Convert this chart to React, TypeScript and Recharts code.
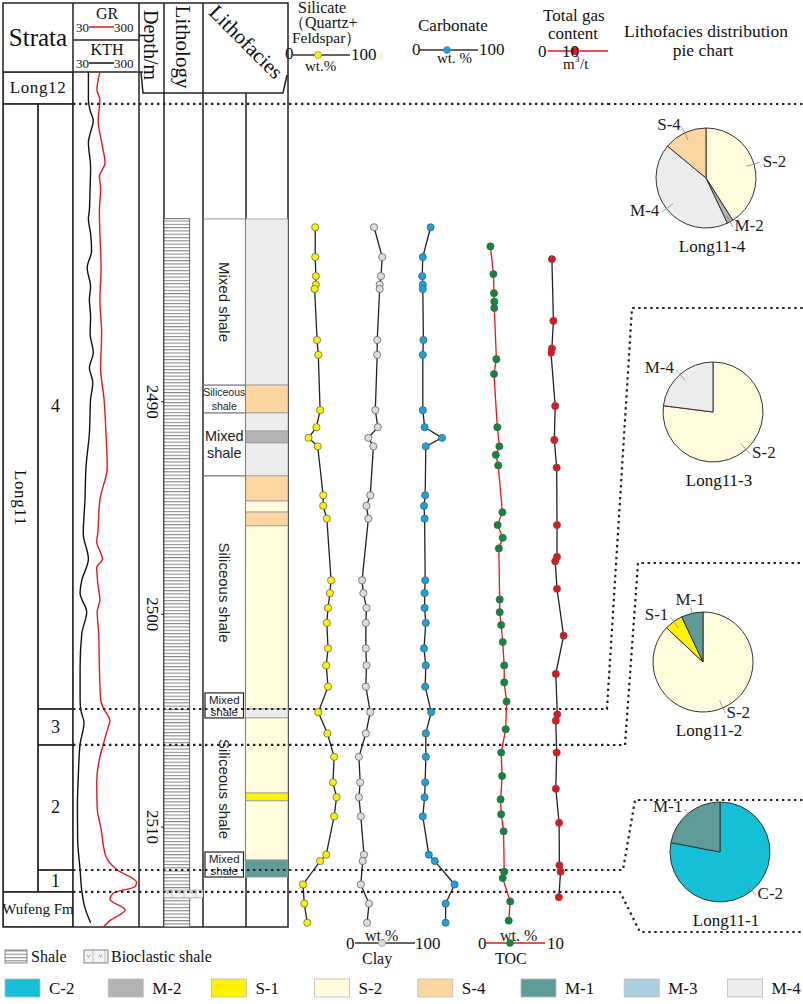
import React from 'react';
import {
  LineChart,
  Line,
  XAxis,
  YAxis,
  ReferenceArea,
  ReferenceLine,
  PieChart,
  Pie,
  Cell
} from 'recharts';

const SERIF = '"Liberation Serif", "Times New Roman", serif';
const SANS = '"Liberation Sans", Arial, sans-serif';

// depth window of the log (m)
const depthDomain = [2474.5, 2514.7];
const depthTicks = [2490, 2500, 2510];

// GR / KTH log curves (API)
const grDepths = [2474.5, 2475.35, 2475.8, 2476.8, 2477.8, 2478.8, 2479.0, 2479.4, 2480.0, 2481.0, 2482.1, 2483.7, 2485.2, 2486.8, 2488.4, 2489.9, 2491.5, 2493.1, 2494.6, 2496.2, 2496.6, 2497.1, 2497.4, 2497.8, 2498.7, 2499.3, 2499.9, 2500.9, 2502.5, 2504.0, 2504.4, 2505.0, 2505.3, 2506.1, 2506.7, 2507.9, 2509.1, 2510.1, 2511.4, 2512.0, 2512.6, 2512.8, 2513.1, 2513.4, 2513.9, 2514.4, 2514.7];
const grValues = [140, 128, 140, 133, 147, 161, 154, 138, 143, 138, 140, 145, 140, 147, 143, 157, 165, 170, 140, 131, 127, 143, 151, 127, 133, 140, 129, 135, 138, 143, 154, 181, 174, 154, 140, 127, 129, 145, 165, 209, 290, 284, 195, 181, 243, 181, 154];
const kthDepths = [2474.5, 2475.8, 2476.3, 2476.8, 2477.4, 2477.8, 2479.0, 2479.9, 2481.0, 2481.4, 2482.1, 2482.9, 2483.7, 2484.6, 2485.2, 2486.0, 2486.8, 2487.7, 2488.4, 2489.1, 2489.9, 2491.5, 2493.1, 2494.6, 2496.2, 2497.4, 2498.4, 2499.0, 2499.9, 2500.9, 2502.5, 2504.0, 2504.5, 2505.1, 2506.1, 2507.5, 2509.1, 2510.6, 2512.0, 2513.0, 2513.8, 2514.5];
const kthValues = [93, 93, 100, 113, 100, 93, 102, 100, 97, 93, 102, 106, 88, 102, 97, 102, 100, 113, 97, 111, 102, 97, 83, 79, 72, 93, 66, 59, 86, 66, 59, 59, 62, 75, 59, 52, 48, 49, 59, 66, 79, 102];

// mineral samples (wt.%)
const sampleDepths = [2481.8, 2483.2, 2484.1, 2484.5, 2484.7, 2487.1, 2487.8, 2490.4, 2491.2, 2491.7, 2492.1, 2494.4, 2494.9, 2495.5, 2498.4, 2499.0, 2499.7, 2500.4, 2501.6, 2502.4, 2503.4, 2504.6, 2505.6, 2506.7, 2507.9, 2508.6, 2509.5, 2511.3, 2511.6, 2512.7, 2513.6, 2514.5];
const silicateValues = [43, 43, 44, 44, 42, 46, 48, 51, 45, 32, 47, 56, 56, 62, 69, 67, 64, 62, 64, 61, 64, 48, 63, 74, 72, 78, 74, 61, 51, 23, 25, 30];
const clayValues = [35, 48, 46, 44, 44, 40, 40, 37, 41, 26, 34, 29, 23, 26, 16, 18, 23, 22, 22, 23, 22, 29, 22, 11, 13, 11, 14, 19, 17, 14, 27, 24];
const carbonateValues = [21, 8, 7, 8, 8, 9, 8, 8, 11, 40, 13, 12, 10, 11, 12, 11, 11, 13, 10, 13, 12, 22, 13, 13, 12, 11, 8, 18, 28, 61, 46, 46];

// TOC (wt.%)
const tocDepths = [2482.7, 2484.0, 2484.9, 2485.3, 2485.6, 2488.0, 2488.7, 2491.2, 2492.1, 2492.5, 2493.0, 2495.2, 2495.8, 2496.4, 2496.9, 2499.3, 2499.9, 2500.5, 2501.3, 2502.4, 2503.2, 2504.1, 2505.4, 2506.5, 2507.6, 2508.7, 2509.4, 2510.2, 2512.1, 2512.4, 2513.5, 2514.4];
const tocValues = [0.9, 1.4, 1.5, 1.55, 1.55, 1.9, 1.5, 2.05, 2.4, 1.8, 2.2, 2.9, 2.1, 2.95, 2.3, 2.45, 2.45, 2.7, 2.95, 3.2, 3.2, 3.6, 3.45, 2.7, 2.85, 2.6, 2.7, 3.1, 3.2, 2.95, 4.2, 3.95];

// total gas content (m3/t)
const gasDepths = [2483.3, 2486.2, 2487.5, 2487.7, 2490.2, 2491.8, 2493.1, 2495.8, 2497.3, 2497.5, 2498.8, 2501.0, 2502.8, 2504.7, 2505.0, 2506.5, 2508.2, 2509.8, 2511.8, 2512.1, 2513.3];
const gasValues = [0.65, 0.9, 0.65, 0.5, 1.2, 1.05, 1.45, 1.5, 1.5, 1.2, 1.5, 2.6, 1.3, 1.55, 1.3, 1.45, 1.3, 1.85, 1.9, 2.1, 1.8];

// strata
const members = ['Long12', 'Long11', 'Wufeng Fm'];
const memberTops = [2474.5, 2476.0, 2513.05];
const memberBottoms = [2476.0, 2513.05, 2514.7];
const subLayers = ['4', '3', '2', '1'];
const subLayerTops = [2476.0, 2504.45, 2506.14, 2512.02];
const subLayerBottoms = [2504.45, 2506.14, 2512.02, 2513.05];
const boundaryDepths = [2476.0, 2504.45, 2506.14, 2512.02, 2513.05];

// lithology
const lithologyTypes = ['shale', 'bioclastic'];
const lithologyTops = [2481.4, 2512.96];
const lithologyBottoms = [2514.7, 2513.33];

// lithofacies column
const faciesCodes = ['M-4', 'S-4', 'M-4', 'M-2', 'M-4', 'S-4', 'S-2', 'S-4', 'S-2', 'M-4', 'S-2', 'S-1', 'S-2', 'M-1'];
const faciesTops = [2481.41, 2489.22, 2490.53, 2491.38, 2491.94, 2493.49, 2494.67, 2495.19, 2495.84, 2504.45, 2504.87, 2508.4, 2508.77, 2511.55];
const faciesBottoms = [2489.22, 2490.53, 2491.38, 2491.94, 2493.49, 2494.67, 2495.19, 2495.84, 2504.45, 2504.87, 2508.4, 2508.77, 2511.55, 2512.35];
const faciesGroups = ['Mixed shale', 'Siliceous shale', 'Mixed shale', 'Siliceous shale', 'Mixed shale', 'Siliceous shale', 'Mixed shale'];
const groupTops = [2481.41, 2489.22, 2490.53, 2493.49, 2504.45, 2504.87, 2511.55];
const groupBottoms = [2489.22, 2490.53, 2493.49, 2504.45, 2504.87, 2511.55, 2512.35];

const legendCodes = ['C-2', 'M-2', 'S-1', 'S-2', 'S-4', 'M-1', 'M-3', 'M-4'];
const legendColors = ['#15bfd5', '#b3b3b3', '#fff200', '#fffbdc', '#fcd5a0', '#5f9c99', '#a9cfe0', '#ececec'];

// pie charts (%)
const pieTitles = ['Long11-4', 'Long11-3', 'Long11-2', 'Long11-1'];
const pieCodes = [['S-2', 'M-2', 'M-4', 'S-4'], ['S-2', 'M-4'], ['S-2', 'S-1', 'M-1'], ['C-2', 'M-1']];
const pieShares = [[41, 2, 43, 14], [77, 23], [87, 6, 7], [78, 22]];

const colorOf = (code: string) => legendColors[legendCodes.indexOf(code)];

const LOG_TOP = 72;
const LOG_H = 855;
const pieCenters = [
  { cx: 706, cy: 178 },
  { cx: 713, cy: 412 },
  { cx: 703, cy: 662 },
  { cx: 720, cy: 852 }
];
const noMargin = { top: 0, right: 0, bottom: 0, left: 0 };
const dotted = { stroke: '#222', strokeWidth: 2.2, strokeDasharray: '2.4 3.6', fill: 'none' };

const pos = (left: number, width: number): React.CSSProperties => ({
  position: 'absolute',
  left,
  top: LOG_TOP,
  width,
  height: LOG_H
});

const T = ({ x, y, size = 16, anchor = 'start', family = SERIF, rotate = 0, fill = '#111', children }: any) => (
  <text
    x={x}
    y={y}
    fontSize={size}
    fontFamily={family}
    textAnchor={anchor}
    fill={fill}
    dominantBaseline={rotate ? 'central' : 'auto'}
    transform={rotate ? `rotate(${rotate} ${x} ${y})` : undefined}
  >
    {children}
  </text>
);

const DepthTick = (p: any) => {
  const cx = p.x - 6;
  return (
    <text
      x={cx}
      y={p.y}
      transform={`rotate(90 ${cx} ${p.y})`}
      textAnchor='middle'
      dominantBaseline='central'
      fontFamily={SERIF}
      fontSize={17}
      fill='#111'
    >
      {p.payload.value}
    </text>
  );
};

const strataShape = (name: string, vertical: boolean) => (p: any) => {
  const cx = p.x + p.width / 2;
  const cy = p.y + p.height / 2;
  return (
    <g>
      <rect x={p.x} y={p.y} width={p.width} height={p.height} fill='none' stroke='#222' strokeWidth={1.3} />
      <text
        x={cx}
        y={cy}
        textAnchor='middle'
        dominantBaseline='central'
        fontFamily={SERIF}
        fontSize={name.length > 6 ? 15 : name.length > 1 ? 17 : 18}
        letterSpacing={name.length > 1 && name.length <= 6 ? 0.6 : 0}
        transform={vertical ? `rotate(90 ${cx} ${cy})` : undefined}
        fill='#111'
      >
        {name}
      </text>
    </g>
  );
};

const faciesShape = (color: string) => (p: any) => (
  <rect x={p.x} y={p.y} width={p.width} height={p.height} fill={color} stroke='#9a9a9a' strokeWidth={0.8} />
);

const groupShape = (name: string) => (p: any) => {
  const { x, y, width, height } = p;
  const cx = x + width / 2;
  const cy = y + height / 2;
  const [w1, w2] = name.split(' ');
  if (height > 100) {
    return (
      <g>
        <rect x={x} y={y} width={width} height={height} fill='none' stroke='#777' strokeWidth={0.8} />
        <text
          x={cx}
          y={cy}
          transform={`rotate(90 ${cx} ${cy})`}
          textAnchor='middle'
          dominantBaseline='central'
          fontFamily={SANS}
          fontSize={15}
          fill='#222'
        >
          {name}
        </text>
      </g>
    );
  }
  if (height > 20) {
    const small = height < 40;
    const size = small ? 10.5 : 14.5;
    const d = small ? 7 : 8.5;
    return (
      <g>
        <rect x={x} y={y} width={width} height={height} fill='none' stroke='#777' strokeWidth={0.8} />
        <text x={cx} y={cy - d} textAnchor='middle' dominantBaseline='central' fontFamily={SANS} fontSize={size} fill='#222'>{w1}</text>
        <text x={cx} y={cy + d} textAnchor='middle' dominantBaseline='central' fontFamily={SANS} fontSize={size} fill='#222'>{w2}</text>
      </g>
    );
  }
  const bh = 25;
  const by = y + height - bh;
  return (
    <g>
      <rect x={x + 2} y={by} width={width - 4} height={bh} fill='#fff' stroke='#222' strokeWidth={1.2} />
      <text x={cx} y={by + 7} textAnchor='middle' dominantBaseline='central' fontFamily={SANS} fontSize={11.5} fill='#222'>{w1}</text>
      <text x={cx} y={by + 19} textAnchor='middle' dominantBaseline='central' fontFamily={SANS} fontSize={11.5} fill='#222'>{w2}</text>
    </g>
  );
};

const lithoShape = (type: string) => (p: any) => (
  <rect
    x={p.x}
    y={p.y}
    width={p.width}
    height={p.height}
    fill={type === 'shale' ? 'url(#shaleHatch)' : 'url(#bioHatch)'}
    stroke={type === 'shale' ? '#333' : '#999'}
    strokeWidth={0.7}
  />
);

const RAD = Math.PI / 180;
const renderPieLabel = (p: any) => {
  const { cx, cy, midAngle, outerRadius, name } = p;
  const c = Math.cos(-midAngle * RAD);
  const s = Math.sin(-midAngle * RAD);
  const nearVertical = Math.abs(c) < 0.35;
  const tx = cx + (outerRadius + 9) * c;
  let ty = cy + (outerRadius + 9) * s;
  if (nearVertical) ty += s < 0 ? -5 : 5;
  else if (s > 0.5) ty -= 4;
  return (
    <g>
      <line
        x1={cx + (outerRadius - 8) * c}
        y1={cy + (outerRadius - 8) * s}
        x2={cx + (outerRadius + 6) * c}
        y2={cy + (outerRadius + 6) * s}
        stroke='#888'
        strokeWidth={0.8}
      />
      <text
        x={tx}
        y={ty}
        textAnchor={nearVertical ? 'middle' : c >= 0 ? 'start' : 'end'}
        dominantBaseline='central'
        fontFamily={SERIF}
        fontSize={17}
        fill='#222'
      >
        {name}
      </text>
    </g>
  );
};

const CurveTrack = ({ left, width, domain, depths, values, dotFill, lineColor }: any) => {
  const data = depths.map((depth: number, i: number) => ({ depth, value: values[i] }));
  return (
    <div style={pos(left, width)}>
      <LineChart width={width} height={LOG_H} layout='vertical' margin={noMargin}>
        <XAxis type='number' domain={domain} hide />
        <YAxis type='number' dataKey='depth' domain={depthDomain} hide />
        <Line
          data={data}
          dataKey='value'
          type='linear'
          stroke={lineColor}
          strokeWidth={1.3}
          dot={{ r: 3.6, fill: dotFill, stroke: '#555', strokeWidth: 0.7 }}
          isAnimationActive={false}
        />
      </LineChart>
    </div>
  );
};

// interval column: an invisible line over the interval tops anchors the axes,
// the intervals themselves are reference areas on the same depth scale
const IntervalChart = ({ left, width, xDomain, tops, children, yAxis }: any) => {
  const anchor = tops.map((depth: number) => ({ depth, value: xDomain[0] }));
  return (
    <div style={pos(left, width)}>
      <LineChart width={width} height={LOG_H} layout='vertical' margin={noMargin}>
        <XAxis type='number' domain={xDomain} allowDataOverflow hide />
        {yAxis || <YAxis type='number' dataKey='depth' domain={depthDomain} allowDataOverflow hide />}
        <Line
          data={anchor}
          dataKey='value'
          stroke='none'
          dot={false}
          activeDot={false}
          legendType='none'
          isAnimationActive={false}
        />
        {children}
      </LineChart>
    </div>
  );
};

export default function App() {
  const grData = grDepths.map((depth, i) => ({ depth, value: grValues[i] }));
  const kthData = kthDepths.map((depth, i) => ({ depth, value: kthValues[i] }));

  return (
    <div style={{ position: 'absolute', left: 0, top: 0, width: 803, height: 1004, background: '#fff' }}>
      <svg width={803} height={1004} style={{ position: 'absolute', left: 0, top: 0 }}>
        <defs>
          <pattern id='shaleHatch' width='10' height='3.3' patternUnits='userSpaceOnUse'>
            <rect width='10' height='3.3' fill='#fff' />
            <line x1='0' y1='0.6' x2='10' y2='0.6' stroke='#6e6e6e' strokeWidth='0.9' />
          </pattern>
          <pattern id='bioHatch' width='12' height='8' patternUnits='userSpaceOnUse'>
            <rect width='12' height='8' fill='#f3f3f3' />
            <path d='M3 2.5 L4.5 5.5 L6 2.5' stroke='#888' fill='none' strokeWidth='0.7' />
            <line x1='9' y1='0' x2='9' y2='8' stroke='#aaa' strokeWidth='0.7' />
          </pattern>
        </defs>

        {/* frame of the left log */}
        <g stroke='#222' strokeWidth={1.5} fill='none'>
          <rect x={3} y={3} width={285} height={924} />
          <line x1={73} y1={3} x2={73} y2={927} />
          <line x1={139} y1={3} x2={139} y2={927} />
          <line x1={164} y1={3} x2={164} y2={927} />
          <line x1={203} y1={3} x2={203} y2={927} />
          <line x1={246} y1={93} x2={246} y2={927} />
          <line x1={3} y1={72} x2={143} y2={72} />
          <line x1={73} y1={40} x2={139} y2={40} />
          <polyline points='141,72 143,93 283,93 287,75' />
        </g>

        {/* header */}
        <T x={38} y={46} size={25} anchor='middle'>Strata</T>
        <T x={107} y={19} size={16} anchor='middle'>GR</T>
        <T x={76} y={32} size={13}>30</T>
        <line x1={89} y1={27} x2={114} y2={27} stroke='#e0191f' strokeWidth={1.5} />
        <T x={114} y={32} size={13}>300</T>
        <T x={107} y={55} size={16} anchor='middle'>KTH</T>
        <T x={76} y={68} size={13}>30</T>
        <line x1={89} y1={63} x2={114} y2={63} stroke='#111' strokeWidth={1.5} />
        <T x={114} y={68} size={13}>300</T>
        <T x={151} y={45} size={20} anchor='middle' rotate={90}>Depth/m</T>
        <T x={183} y={47} size={21} anchor='middle' rotate={90}>Lithology</T>
        <T x={246} y={42} size={21} anchor='middle' rotate={45}>Lithofacies</T>

        {/* curve headers */}
        <T x={298} y={13} size={16}>Silicate</T>
        <T x={289} y={28} size={16}>（Quartz+</T>
        <T x={292} y={43} size={15.5}>Feldspar）</T>
        <T x={285} y={59} size={17}>0</T>
        <line x1={293} y1={55} x2={350} y2={55} stroke='#333' strokeWidth={1.5} />
        <circle cx={318} cy={55} r={3.5} fill='#fff200' stroke='#777' strokeWidth={0.6} />
        <T x={351} y={60} size={17}>100</T>
        <T x={305} y={71} size={15}>wt.%</T>

        <T x={418} y={31} size={17}>Carbonate</T>
        <T x={412} y={55} size={17}>0</T>
        <line x1={420} y1={50} x2={478} y2={50} stroke='#333' strokeWidth={1.5} />
        <circle cx={447} cy={50} r={3.5} fill='#16a3e0' stroke='#777' strokeWidth={0.6} />
        <T x={479} y={55} size={17}>100</T>
        <T x={437} y={63} size={15}>wt. %</T>

        <T x={543} y={21} size={17}>Total gas</T>
        <T x={548} y={39} size={17}>content</T>
        <T x={538} y={57} size={17}>0</T>
        <line x1={548} y1={51} x2={608} y2={51} stroke='#e0191f' strokeWidth={1.5} />
        <circle cx={575} cy={51} r={4} fill='#e8141b' stroke='#777' strokeWidth={0.6} />
        <T x={562} y={57} size={17}>10</T>
        <T x={563} y={69} size={15}>m</T>
        <T x={575} y={62} size={9}>3</T>
        <T x={580} y={69} size={15}>/t</T>

        <T x={706} y={37} size={17.5} anchor='middle'>Lithofacies distribution</T>
        <T x={703} y={56} size={17.5} anchor='middle'>pie chart</T>

        {/* bottom scales */}
        <T x={365} y={941} size={16}>wt.%</T>
        <T x={346} y={949} size={17}>0</T>
        <line x1={355} y1={943} x2={415} y2={943} stroke='#333' strokeWidth={1.5} />
        <circle cx={382} cy={943} r={3.5} fill='#dcdcdc' stroke='#888' strokeWidth={0.6} />
        <T x={415} y={949} size={17}>100</T>
        <T x={362} y={964} size={16}>Clay</T>

        <T x={500} y={941} size={16}>wt. %</T>
        <T x={478} y={949} size={17}>0</T>
        <line x1={485} y1={943} x2={545} y2={943} stroke='#e0191f' strokeWidth={1.5} />
        <circle cx={510} cy={943} r={3.5} fill='#0a8a3a' stroke='#666' strokeWidth={0.6} />
        <T x={547} y={949} size={17}>10</T>
        <T x={495} y={964} size={16}>TOC</T>

        {/* connectors from strata boundaries to the pie charts */}
        <line x1={608} y1={104} x2={803} y2={104} {...dotted} />
        <polyline points='607,709 632,308 803,308' {...dotted} />
        <polyline points='607,745 625,745 638,563 803,563' {...dotted} />
        <polyline points='607,870 623,870 635,800 803,800' {...dotted} />
        <polyline points='607,892 620,892 640,932 803,932' {...dotted} />

        {/* pie titles */}
        {pieTitles.map((title, k) => (
          <T key={title} x={pieCenters[k].cx + 6} y={pieCenters[k].cy + 74} size={17} anchor='middle'>
            {title}
          </T>
        ))}

        {/* legend */}
        <rect x={5} y={950} width={22} height={13} fill='url(#shaleHatch)' stroke='#666' strokeWidth={0.8} />
        <T x={31} y={962} size={16}>Shale</T>
        <rect x={84} y={950} width={24} height={13} fill='url(#bioHatch)' stroke='#666' strokeWidth={0.8} />
        <T x={111} y={962} size={16}>Bioclastic shale</T>
        {legendCodes.map((code, i) => (
          <g key={code}>
            <rect x={5 + i * 103.2} y={979} width={35} height={18} fill={legendColors[i]} stroke='#bbb' strokeWidth={0.8} />
            <T x={49 + i * 103.2} y={994} size={17}>{code}</T>
          </g>
        ))}
      </svg>

      {/* strata column */}
      <IntervalChart left={3} width={70} xDomain={[0, 2]} tops={memberTops}>
        {members.map((m, i) => (
          <ReferenceArea
            key={m}
            x1={0}
            x2={m === 'Long11' ? 1 : 2}
            y1={memberTops[i]}
            y2={memberBottoms[i]}
            shape={strataShape(m, m === 'Long11')}
          />
        ))}
        {subLayers.map((s, i) => (
          <ReferenceArea key={s} x1={1} x2={2} y1={subLayerTops[i]} y2={subLayerBottoms[i]} shape={strataShape(s, false)} />
        ))}
      </IntervalChart>

      {/* GR / KTH */}
      <div style={pos(73, 66)}>
        <LineChart width={66} height={LOG_H} layout='vertical' margin={noMargin}>
          <XAxis type='number' domain={[30, 300]} hide />
          <YAxis type='number' dataKey='depth' domain={depthDomain} hide />
          <Line data={kthData} dataKey='value' type='monotone' stroke='#111' strokeWidth={1.4} dot={false} isAnimationActive={false} />
          <Line data={grData} dataKey='value' type='monotone' stroke='#e0191f' strokeWidth={1.4} dot={false} isAnimationActive={false} />
        </LineChart>
      </div>

      {/* depth scale + lithology */}
      <IntervalChart
        left={139}
        width={64}
        xDomain={[0, 1]}
        tops={lithologyTops}
        yAxis={
          <YAxis
            type='number'
            dataKey='depth'
            domain={depthDomain}
            allowDataOverflow
            ticks={depthTicks}
            width={25}
            tickSize={3}
            tickMargin={3}
            axisLine={false}
            tickLine={{ stroke: '#222' }}
            tick={(p: any) => <DepthTick {...p} />}
          />
        }
      >
        {lithologyTypes.map((t, i) => (
          <ReferenceArea
            key={t}
            x1={0}
            x2={t === 'shale' ? 0.66 : 1}
            y1={lithologyTops[i]}
            y2={lithologyBottoms[i]}
            shape={lithoShape(t)}
          />
        ))}
      </IntervalChart>

      {/* lithofacies */}
      <IntervalChart left={203} width={85} xDomain={[0, 2]} tops={faciesTops}>
        {faciesCodes.map((code, i) => (
          <ReferenceArea key={i} x1={1} x2={2} y1={faciesTops[i]} y2={faciesBottoms[i]} shape={faciesShape(colorOf(code))} />
        ))}
        {faciesGroups.map((g, i) => (
          <ReferenceArea key={'g' + i} x1={0} x2={1} y1={groupTops[i]} y2={groupBottoms[i]} shape={groupShape(g)} />
        ))}
      </IntervalChart>

      {/* strata boundaries */}
      <IntervalChart left={73} width={535} xDomain={[0, 1]} tops={boundaryDepths}>
        {boundaryDepths.map((d) => (
          <ReferenceLine key={d} y={d} stroke='#222' strokeWidth={2.2} strokeDasharray='2.4 3.6' />
        ))}
      </IntervalChart>

      <CurveTrack left={289} width={61} domain={[0, 100]} depths={sampleDepths} values={silicateValues} dotFill='#fff200' lineColor='#222' />
      <CurveTrack left={352} width={63} domain={[0, 100]} depths={sampleDepths} values={clayValues} dotFill='#dcdcdc' lineColor='#222' />
      <CurveTrack left={418} width={60} domain={[0, 100]} depths={sampleDepths} values={carbonateValues} dotFill='#16a3e0' lineColor='#222' />
      <CurveTrack left={485} width={60} domain={[0, 10]} depths={tocDepths} values={tocValues} dotFill='#0a8a3a' lineColor='#e8141b' />
      <CurveTrack left={548} width={60} domain={[0, 10]} depths={gasDepths} values={gasValues} dotFill='#e8141b' lineColor='#222' />

      {pieTitles.map((title, k) => {
        const { cx, cy } = pieCenters[k];
        const data = pieCodes[k].map((code, i) => ({ name: code, value: pieShares[k][i] }));
        return (
          <div key={title} style={{ position: 'absolute', left: cx - 100, top: cy - 75 }}>
            <PieChart width={200} height={150} margin={noMargin}>
              <Pie
                data={data}
                dataKey='value'
                nameKey='name'
                cx={100}
                cy={75}
                outerRadius={50}
                startAngle={90}
                endAngle={-270}
                stroke='#333'
                strokeWidth={1}
                label={renderPieLabel}
                labelLine={false}
                isAnimationActive={false}
              >
                {data.map((d) => (
                  <Cell key={d.name} fill={colorOf(d.name)} />
                ))}
              </Pie>
            </PieChart>
          </div>
        );
      })}
    </div>
  );
}
